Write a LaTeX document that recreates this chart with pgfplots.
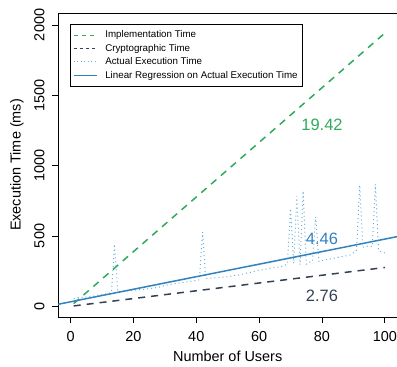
\documentclass[border=0pt]{standalone}
\usepackage{pgfplots}
\pgfplotsset{compat=1.18}
\usepackage{fontspec}
\setmainfont{Liberation Sans}
\definecolor{impl}{HTML}{2EAA5E}
\definecolor{crypt}{HTML}{344155}
\definecolor{actual}{HTML}{6BAED6}
\definecolor{reg}{HTML}{3182BD}
\pgfplotstableread{
x y
1 55
2 62
3 60
4 63
5 66
6 70
7 72
8 75
9 80
10 84
11 88
12 92
13 97
14 441
15 103
16 106
17 108
18 110
19 112
20 114
21 116
22 118
23 120
24 122
25 125
26 128
27 132
28 136
29 142
30 148
31 152
32 156
33 160
34 163
35 166
36 170
37 173
38 176
39 180
40 184
41 188
42 527
43 198
44 200
45 201
46 202
47 204
48 206
49 208
50 210
51 214
52 218
53 221
54 225
55 230
56 236
57 240
58 246
59 252
60 256
61 260
62 264
63 268
64 272
65 276
66 279
67 282
68 290
69 300
70 695
71 305
72 783
73 295
74 820
75 300
76 312
77 320
78 636
79 318
80 325
81 330
82 334
83 338
84 343
85 347
86 352
87 356
88 360
89 366
90 380
91 400
92 861
93 420
94 425
95 430
96 425
97 868
98 400
99 385
100 380
}\actualdata
\begin{document}
\begin{tikzpicture}
\begin{axis}[name=ax, scale only axis, width=339.4bp, height=304bp,
  xmin=-4, xmax=104, ymin=-76, ymax=2085,
  axis line style={line width=0.8bp},
  every tick/.style={black, line width=0.8bp},
  major tick length=6bp, tick align=outside, tick pos=left,
  xtick={0,20,40,60,80,100}, ytick={0,500,1000,1500,2000},
  scaled ticks=false,
  /pgf/number format/1000 sep={},
  /pgf/number format/assume math mode=true,
  ticklabel style={font=\fontsize{14.5}{16}\selectfont},
  yticklabel style={rotate=90, anchor=south},
  xticklabel shift=5bp, yticklabel shift=4bp,
  label style={font=\fontsize{14.5}{16}\selectfont},
  xlabel={Number of Users}, ylabel={Execution Time (ms)},
  xlabel style={at={(axis description cs:0.5,-0.128)}, anchor=center},
  ylabel style={at={(axis description cs:-0.121,0.5)}, anchor=center},
  legend style={at={(axis description cs:0.0354,0.9638)}, anchor=north west,
    draw=black, line width=0.8bp, fill=white,
    font=\fontsize{9.8}{11}\selectfont, inner xsep=3bp, inner ysep=4.5bp,
    row sep=0.8bp},
  legend cell align=left,
  clip=false,
]
\addplot[impl, line width=1.5bp, dash pattern=on 7bp off 6bp, forget plot] coordinates {(1,19.42) (100,1942)};
\addplot[crypt, line width=1.5bp, dash pattern=on 7bp off 6bp, forget plot] coordinates {(1,2.76) (100,276)};
\addplot[actual, line width=1bp, dash pattern=on 1bp off 3bp, forget plot] table[x=x,y=y] {\actualdata};
\addplot[reg, line width=1.5bp, forget plot] coordinates {(-4,14.2) (104,495.8)};
\addlegendimage{legend image code/.code={\draw[draw=impl, line width=1bp, dash pattern=on 4bp off 4bp] (0bp,0bp) -- (23bp,0bp); \path (29bp,0bp);}}
\addlegendentry{Implementation Time}
\addlegendimage{legend image code/.code={\draw[draw=crypt, line width=1bp, dash pattern=on 3bp off 3bp] (0bp,0bp) -- (23bp,0bp); \path (29bp,0bp);}}
\addlegendentry{Cryptographic Time}
\addlegendimage{legend image code/.code={\draw[draw=actual, line width=1bp, dash pattern=on 1bp off 2.5bp] (0bp,0bp) -- (23bp,0bp); \path (29bp,0bp);}}
\addlegendentry{Actual Execution Time}
\addlegendimage{legend image code/.code={\draw[draw=reg, line width=1bp] (0bp,0bp) -- (23bp,0bp); \path (29bp,0bp);}}
\addlegendentry{Linear Regression on Actual Execution Time}
\node[text=impl, font=\fontsize{16.5}{18}\selectfont] at (axis cs:80,1288) {19.42};
\node[text=reg, font=\fontsize{16.5}{18}\selectfont] at (axis cs:80,477) {4.46};
\node[text=crypt, font=\fontsize{16.5}{18}\selectfont] at (axis cs:80,71) {2.76};
\end{axis}
\pgfresetboundingbox
\path[use as bounding box] ([xshift=-58bp,yshift=-50bp]ax.south west) rectangle ([xshift=-0.4bp,yshift=13bp]ax.north east);
\end{tikzpicture}
\end{document}
